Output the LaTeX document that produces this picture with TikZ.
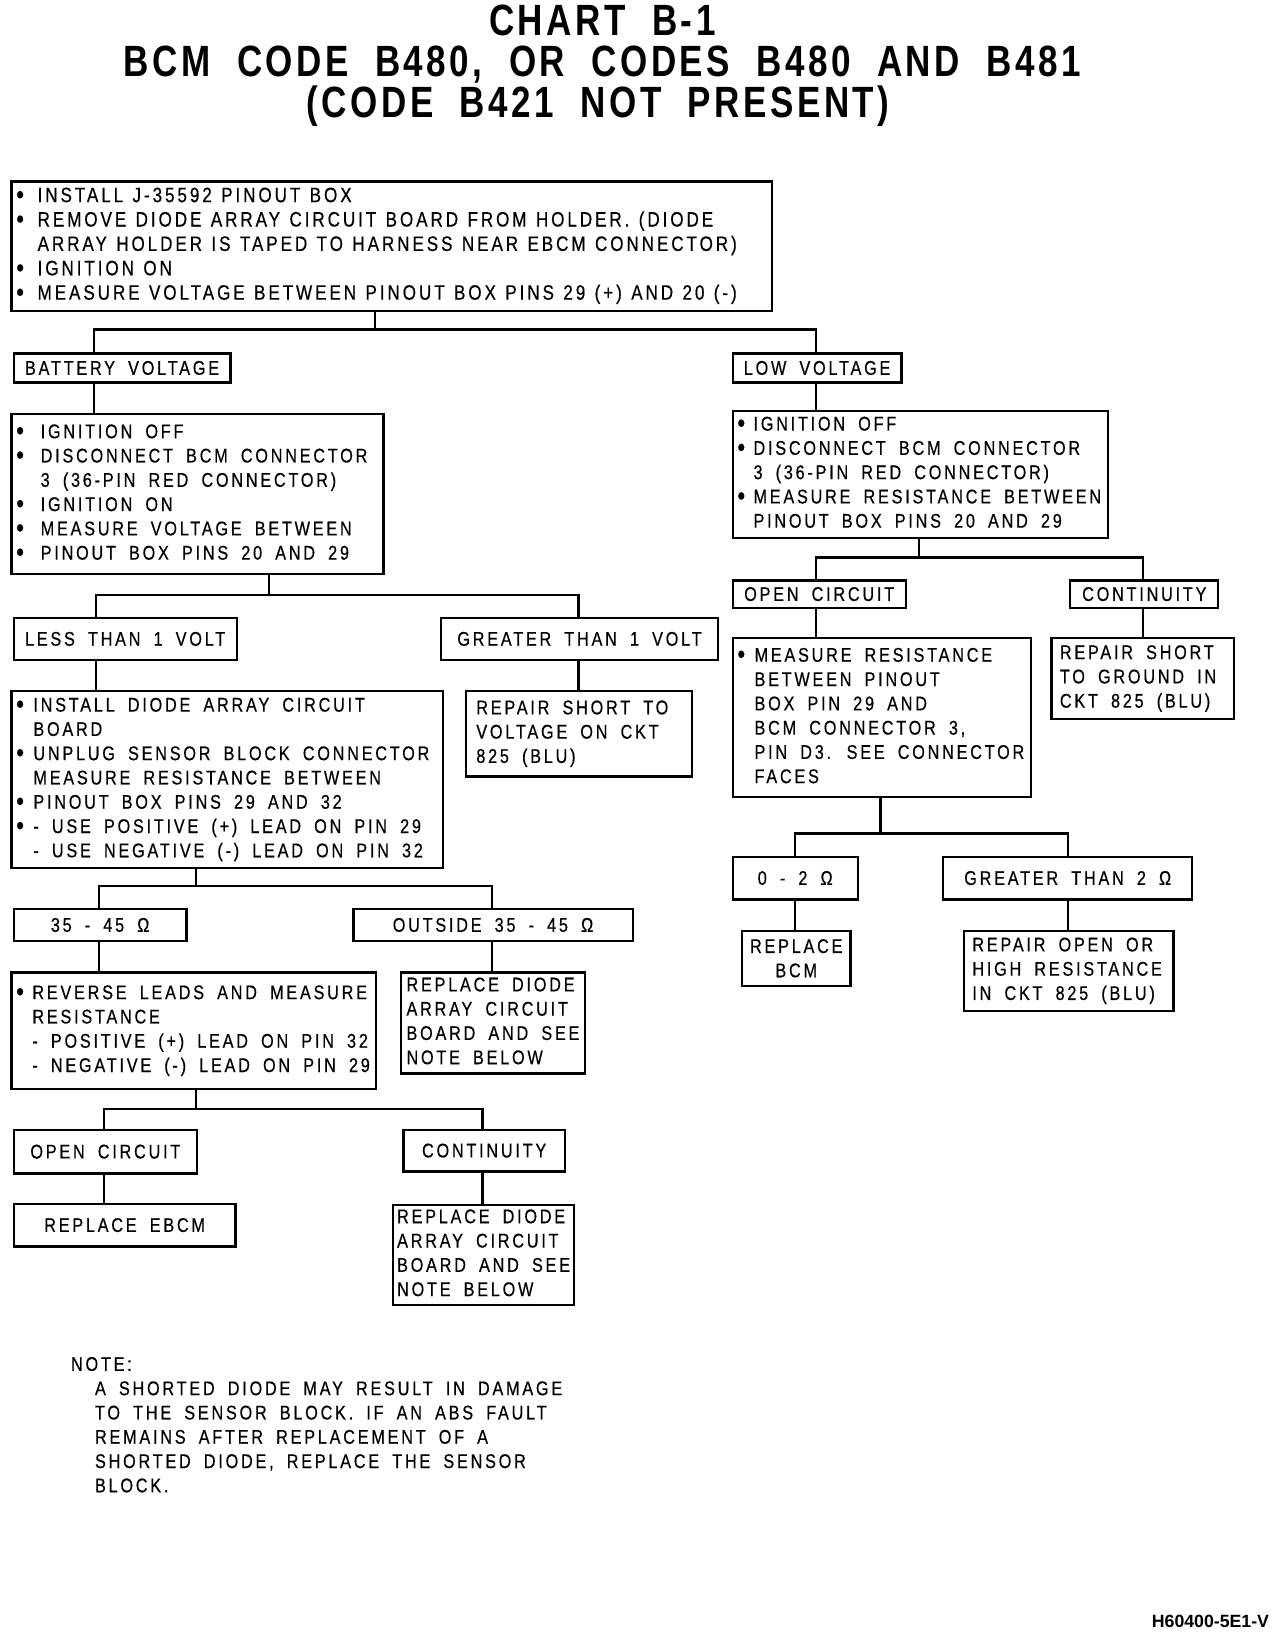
\documentclass[tikz,border=0pt]{standalone}
\usepackage{fontspec}
\setmainfont{Liberation Sans}
\newfontfamily\bodyf[FakeStretch=0.82,LetterSpace=14,WordSpace=1.8,FakeBold=0.5]{Liberation Sans}
\newfontfamily\titlef[FakeStretch=0.8,LetterSpace=8,WordSpace=2]{Liberation Sans}
\newcommand\bu[1][20pt]{\makebox[#1][l]{\hspace{0.5pt}\raisebox{-1.5pt}{\fontsize{26}{0}\selectfont•}}}
\newcommand\ind[1][20pt]{\hspace*{#1}}
\newcommand\ohm{Ω}
\newcommand\tl[2][\fontdimen2\font]{{\spaceskip=#1\relax\xspaceskip=0pt\relax\begin{tabular}{@{}l@{}}#2\end{tabular}}}
\tikzset{
  bodyfont/.style={font=\bodyf\fontsize{19}{23.3}\selectfont},
  box/.style={draw, line width=2.2pt, anchor=north west, inner ysep=0pt, inner xsep=4pt, bodyfont},
  tag/.style={draw, line width=2.2pt, anchor=north west, inner sep=0pt, align=center, bodyfont},
  wire/.style={line width=2.4pt},
  titletext/.style={inner sep=0pt, font=\titlef\bfseries\fontsize{42}{44}\selectfont}
}
\begin{document}
\begin{tikzpicture}[x=1pt,y=-1pt]
\useasboundingbox (0,0) rectangle (1228,1568);
% title
\node[titletext] (t1) at (578,20) {CHART B-1};
\node[titletext] (t2) at (578,62) {BCM CODE B480, OR CODES B480 AND B481};
\node[titletext] (t3) at (574,102) {(CODE B421 NOT PRESENT)};

% boxes
\node[box, text width=722pt, minimum height=124pt, font=\bodyf\fontsize{20}{23.4}\selectfont] (b1) at (10,173) {\tl[0.45em]{%
\bu[21pt]INSTALL J-35592 PINOUT BOX\\
\bu[21pt]REMOVE DIODE ARRAY CIRCUIT BOARD FROM HOLDER. (DIODE\\
\ind[21pt]ARRAY HOLDER IS TAPED TO HARNESS NEAR EBCM CONNECTOR)\\
\bu[21pt]IGNITION ON\\
\bu[21pt]MEASURE VOLTAGE BETWEEN PINOUT BOX PINS 29 (+) AND 20 (-)}};

\node[tag, minimum width=208pt, minimum height=28pt] (bat) at (12,338) {BATTERY VOLTAGE};
\node[tag, minimum width=162pt, minimum height=28pt] (lv) at (702,338) {LOW VOLTAGE};

\node[box, text width=349pt, minimum height=154pt] (b2) at (10,396) {\tl{%
\bu[24pt]IGNITION OFF\\
\bu[24pt]DISCONNECT BCM CONNECTOR\\
\ind[24pt]3 (36-PIN RED CONNECTOR)\\
\bu[24pt]IGNITION ON\\
\bu[24pt]MEASURE VOLTAGE BETWEEN\\
\bu[24pt]PINOUT BOX PINS 20 AND 29}};

\node[tag, minimum width=214pt, minimum height=40pt] (lt1) at (12,592) {LESS THAN 1 VOLT};
\node[tag, minimum width=266pt, minimum height=40pt] (gt1) at (422,592) {GREATER THAN 1 VOLT};

\node[box, inner xsep=10pt, text width=197pt, minimum height=82pt] (rs1) at (446,662) {\tl{%
REPAIR SHORT TO\\ VOLTAGE ON CKT\\ 825 (BLU)}};

\node[box, text width=406pt, minimum height=170pt] (b3) at (10,662) {\tl{%
\bu[17pt]INSTALL DIODE ARRAY CIRCUIT\\
\ind[17pt]BOARD\\
\bu[17pt]UNPLUG SENSOR BLOCK CONNECTOR\\
\ind[17pt]MEASURE RESISTANCE BETWEEN\\
\bu[17pt]PINOUT BOX PINS 29 AND 32\\
\bu[17pt]- USE POSITIVE (+) LEAD ON PIN 29\\
\ind[17pt]- USE NEGATIVE (-) LEAD ON PIN 32}};

\node[tag, minimum width=166pt, minimum height=31pt] (o1) at (12,871) {35 - 45 \ohm};
\node[tag, minimum width=268pt, minimum height=31pt] (out) at (338,871) {OUTSIDE 35 - 45 \ohm};

\node[box, text width=342pt, minimum height=112pt] (b4) at (10,932) {\tl{%
\bu[16pt]REVERSE LEADS AND MEASURE\\
\ind[16pt]RESISTANCE\\
\ind[16pt]- POSITIVE (+) LEAD ON PIN 32\\
\ind[16pt]- NEGATIVE (-) LEAD ON PIN 29}};

\node[box, inner xsep=5pt, text width=166pt, minimum height=97pt] (rd1) at (384,932) {\tl{%
REPLACE DIODE\\ ARRAY CIRCUIT\\ BOARD AND SEE\\ NOTE BELOW}};

\node[tag, minimum width=176pt, minimum height=42pt] (oc) at (12,1083) {OPEN CIRCUIT};
\node[tag, minimum width=155pt, minimum height=40pt] (ct) at (386,1083) {CONTINUITY};
\node[tag, minimum width=213pt, minimum height=41pt] (re) at (12,1154) {REPLACE EBCM};
\node[box, inner xsep=4pt, text width=166pt, minimum height=96pt] (rd2) at (376,1155) {\tl{%
REPLACE DIODE\\ ARRAY CIRCUIT\\ BOARD AND SEE\\ NOTE BELOW}};

% right side
\node[box, text width=352pt, minimum height=122pt] (r1) at (702,393) {\tl{%
\bu[16pt]IGNITION OFF\\
\bu[16pt]DISCONNECT BCM CONNECTOR\\
\ind[16pt]3 (36-PIN RED CONNECTOR)\\
\bu[16pt]MEASURE RESISTANCE BETWEEN\\
\ind[16pt]PINOUT BOX PINS 20 AND 29}};

\node[tag, minimum width=166pt, minimum height=26pt] (ocr) at (702,556) {OPEN CIRCUIT};
\node[tag, minimum width=142pt, minimum height=26pt] (ctr) at (1026,556) {CONTINUITY};

\node[box, text width=278pt, minimum height=153pt] (r2) at (702,611) {\tl{%
\bu[17pt]MEASURE RESISTANCE\\
\ind[17pt]BETWEEN PINOUT\\
\ind[17pt]BOX PIN 29 AND\\
\ind[17pt]BCM CONNECTOR 3,\\
\ind[17pt]PIN D3. SEE CONNECTOR\\
\ind[17pt]FACES}};

\node[box, inner xsep=8pt, text width=159pt, minimum height=78pt] (r3) at (1008,611) {\tl{%
REPAIR SHORT\\ TO GROUND IN\\ CKT 825 (BLU)}};

\node[tag, minimum width=120pt, minimum height=41pt] (z2) at (702,821) {0 - 2 \ohm};
\node[tag, minimum width=239pt, minimum height=41pt] (gt2) at (904,821) {GREATER THAN 2 \ohm};
\node[tag, minimum width=104pt, minimum height=53pt] (rb) at (711,892) {REPLACE\\BCM};
\node[box, inner xsep=8pt, text width=185pt, minimum height=77pt] (ro) at (924,892) {\tl{%
REPAIR OPEN OR\\ HIGH RESISTANCE\\ IN CKT 825 (BLU)}};

% note
\node[anchor=north west, inner sep=0pt, align=left, bodyfont] (note) at (68,1299) {\tl{%
NOTE:\\
\ind[23pt]A SHORTED DIODE MAY RESULT IN DAMAGE\\
\ind[23pt]TO THE SENSOR BLOCK. IF AN ABS FAULT\\
\ind[23pt]REMAINS AFTER REPLACEMENT OF A\\
\ind[23pt]SHORTED DIODE, REPLACE THE SENSOR\\
\ind[23pt]BLOCK.}};

\node[anchor=south east, inner sep=0pt, font=\bfseries\fontsize{17}{17}\selectfont] (ft) at (1218,1562) {H60400-5E1-V};

% junction coordinates
\coordinate (j1) at (360,316);
\coordinate (xa) at (90,0);
\coordinate (xb) at (783,0);
\coordinate (j2) at (258,571);
\coordinate (xc) at (92,0);
\coordinate (xd) at (555,0);
\coordinate (j3) at (188,850);
\coordinate (xe) at (95,0);
\coordinate (xf) at (472,0);
\coordinate (j4) at (188,1064);
\coordinate (xg) at (100,0);
\coordinate (xh) at (463,0);
\coordinate (j5) at (882,535);
\coordinate (xi) at (1097,0);
\coordinate (j6) at (845,800);
\coordinate (xj) at (763,0);
\coordinate (xk) at (1025,0);

% connectors
\draw[wire] (b1.south -| j1) -- (j1);
\draw[wire] (bat.north -| xa) |- (j1) -| (lv.north -| xb);
\draw[wire] (bat.south -| xa) -- (b2.north -| xa);
\draw[wire] (b2.south -| j2) -- (j2);
\draw[wire] (lt1.north -| xc) |- (j2) -| (gt1.north -| xd);
\draw[wire] (gt1.south -| xd) -- (rs1.north -| xd);
\draw[wire] (lt1.south -| xc) -- (b3.north -| xc);
\draw[wire] (b3.south -| j3) -- (j3);
\draw[wire] (o1.north -| xe) |- (j3) -| (out.north -| xf);
\draw[wire] (o1.south -| xe) -- (b4.north -| xe);
\draw[wire] (out.south -| xf) -- (rd1.north -| xf);
\draw[wire] (b4.south -| j4) -- (j4);
\draw[wire] (oc.north -| xg) |- (j4) -| (ct.north -| xh);
\draw[wire] (oc.south -| xg) -- (re.north -| xg);
\draw[wire] (ct.south -| xh) -- (rd2.north -| xh);
\draw[wire] (lv.south -| xb) -- (r1.north -| xb);
\draw[wire] (r1.south -| j5) -- (j5);
\draw[wire] (ocr.north -| xb) |- (j5) -| (ctr.north -| xi);
\draw[wire] (ocr.south -| xb) -- (r2.north -| xb);
\draw[wire] (ctr.south -| xi) -- (r3.north -| xi);
\draw[wire] (r2.south -| j6) -- (j6);
\draw[wire] (z2.north -| xj) |- (j6) -| (gt2.north -| xk);
\draw[wire] (z2.south -| xj) -- (rb.north -| xj);
\draw[wire] (gt2.south -| xk) -- (ro.north -| xk);
\end{tikzpicture}
\end{document}
